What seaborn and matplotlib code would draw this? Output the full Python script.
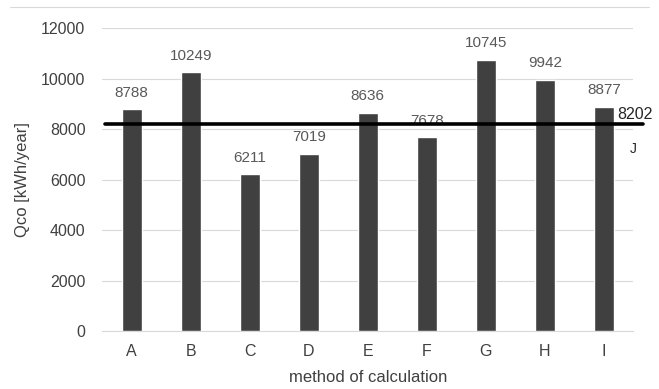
import matplotlib
matplotlib.use("Agg")
import matplotlib.pyplot as plt
import seaborn as sns
import pandas as pd

categories = ["A", "B", "C", "D", "E", "F", "G", "H", "I"]
values = [8788, 10249, 6211, 7019, 8636, 7678, 10745, 9942, 8877]
ref_value = 8202
ref_label = "J"
yticks = [0, 2000, 4000, 6000, 8000, 10000, 12000]

sns.set_theme(style="white")
plt.rcParams['font.family'] = ['Liberation Sans', 'DejaVu Sans']

df = pd.DataFrame({"method": categories, "Qco": values})

fig = plt.figure(figsize=(6.59, 3.89), dpi=100)
ax = fig.add_axes([0.155, 0.149, 0.806, 0.779])

sns.barplot(data=df, x="method", y="Qco", color="#404040", saturation=1,
            width=0.34, ax=ax, zorder=3)

ax.set_ylim(0, 12000)
ax.set_xlim(-0.5, len(categories) - 0.5)
ax.set_yticks(yticks)
ax.yaxis.grid(True, color="#d9d9d9", linewidth=0.8, zorder=0)
ax.xaxis.grid(False)
for s in ["top", "right", "left"]:
    ax.spines[s].set_visible(False)
ax.spines["bottom"].set_color("#d9d9d9")
ax.spines["bottom"].set_linewidth(0.8)
ax.tick_params(axis="both", length=0, colors="#404040", labelsize=11.5)
ax.tick_params(axis="y", pad=12)
ax.tick_params(axis="x", pad=9)

for i, v in enumerate(values):
    ax.text(i, v + 380, str(v), ha="center", va="bottom", fontsize=11, color="#595959")

ax.set_xlabel("method of calculation", fontsize=12, color="#404040", labelpad=8)
ax.set_ylabel("Qco [kWh/year]", fontsize=12, color="#404040", labelpad=8)

ax.axhline(ref_value, xmin=0.006, xmax=1.019, color="black", linewidth=2.6,
           clip_on=False, zorder=4)
ax.text(1.003, ref_value + 80, str(ref_value), transform=ax.get_yaxis_transform(),
        ha="center", va="bottom", fontsize=11.5, color="#262626")
ax.text(1.0, ref_value - 700, ref_label, transform=ax.get_yaxis_transform(),
        ha="center", va="top", fontsize=10, color="#262626")

fig.add_artist(plt.Line2D([0.015, 0.985], [0.983, 0.983], color="#d9d9d9", linewidth=0.8))

fig.savefig("out.png", dpi=100)
